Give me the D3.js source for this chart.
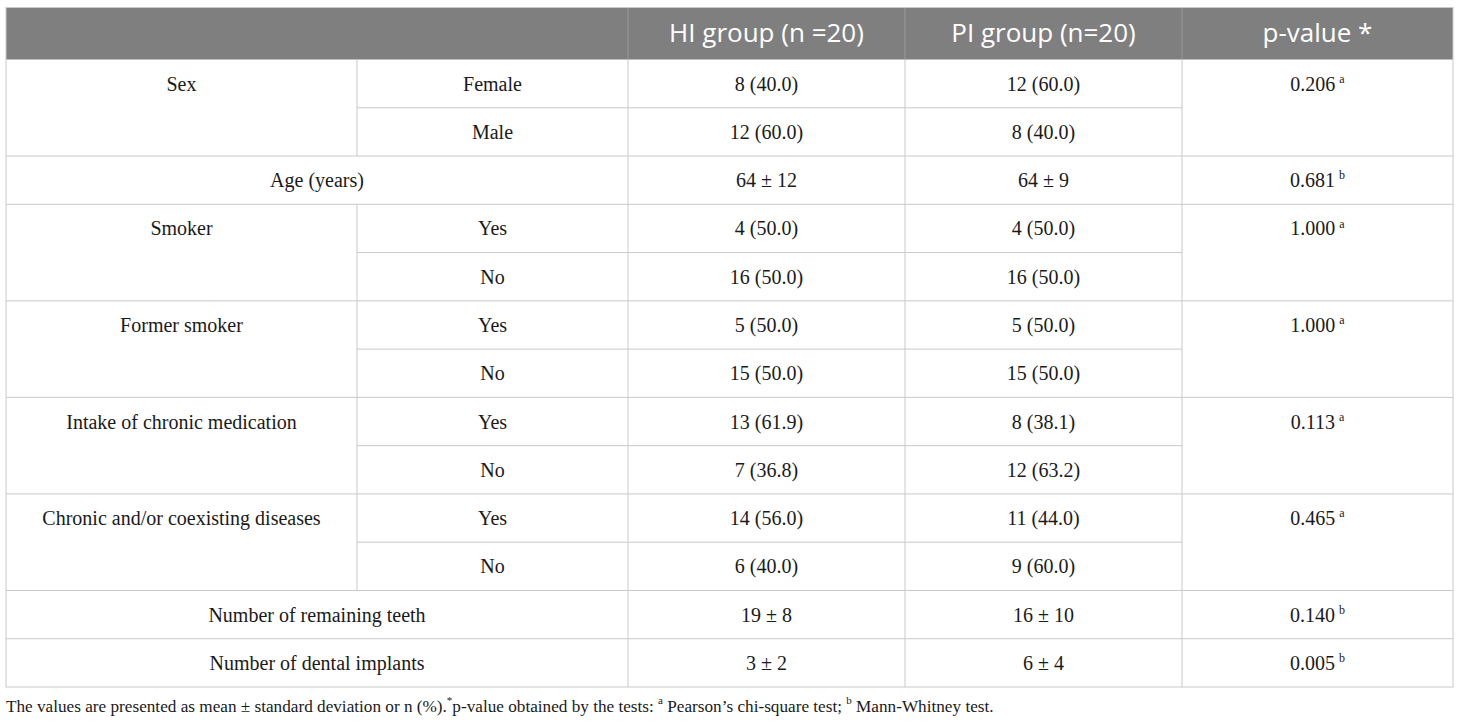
<!DOCTYPE html>
<html>
<head>
<meta charset="utf-8">
<script src="https://cdn.jsdelivr.net/npm/d3@7"></script>
<style>
  html, body { margin: 0; padding: 0; background: #fff; }
  svg { display: block; }
</style>
</head>
<body>
<svg id="chart" width="1460" height="724"></svg>
<script>
// ---- data ----
const headers = ["", "HI group (n =20)", "PI group (n=20)", "p-value *"];
const variables = [
  "Sex", "Age (years)", "Smoker", "Former smoker",
  "Intake of chronic medication", "Chronic and/or coexisting diseases",
  "Number of remaining teeth", "Number of dental implants"
];
const levels = [
  ["Female", "Male"], [], ["Yes", "No"], ["Yes", "No"],
  ["Yes", "No"], ["Yes", "No"], [], []
];
const hiValues = [
  ["8 (40.0)", "12 (60.0)"], ["64 ± 12"], ["4 (50.0)", "16 (50.0)"],
  ["5 (50.0)", "15 (50.0)"], ["13 (61.9)", "7 (36.8)"],
  ["14 (56.0)", "6 (40.0)"], ["19 ± 8"], ["3 ± 2"]
];
const piValues = [
  ["12 (60.0)", "8 (40.0)"], ["64 ± 9"], ["4 (50.0)", "16 (50.0)"],
  ["5 (50.0)", "15 (50.0)"], ["8 (38.1)", "12 (63.2)"],
  ["11 (44.0)", "9 (60.0)"], ["16 ± 10"], ["6 ± 4"]
];
const pValues = ["0.206", "0.681", "1.000", "1.000", "0.113", "0.465", "0.140", "0.005"];
const pTests = ["a", "b", "a", "a", "a", "a", "b", "b"];
const footnoteParts = [
  {t: "The values are presented as mean ± standard deviation or n (%).", sup: false},
  {t: "*", sup: true},
  {t: "p-value obtained by the tests: ", sup: false},
  {t: "a", sup: true},
  {t: " Pearson’s chi-square test; ", sup: false},
  {t: "b", sup: true},
  {t: " Mann-Whitney test.", sup: false}
];

// ---- layout ----
const svg = d3.select("#chart");
const colEdges = [6, 357, 628, 905, 1182, 1453];
const x = d3.scaleOrdinal().domain(d3.range(6)).range(colEdges);
const headTop = 7.5, headBottom = 59.5;
const nRows = d3.sum(variables, (v, i) => Math.max(1, levels[i].length));
const y = d3.scaleLinear().domain([0, nRows]).range([headBottom, 687]);
const border = "#c9c9c9";
const serif = "'Liberation Serif', 'Times New Roman', serif";
const sans = "'Open Sans', 'Noto Sans', sans-serif";
const textCol = "#1a1a1a";
const bodySize = 20;

// header
svg.append("rect").attr("x", x(0)).attr("y", headTop)
  .attr("width", x(5) - x(0)).attr("height", headBottom - headTop)
  .attr("fill", "#7f7f7f");
[2, 3, 4].forEach(c => {
  svg.append("line").attr("x1", x(c)).attr("x2", x(c))
    .attr("y1", headTop).attr("y2", headBottom)
    .attr("stroke", "#9a9a9a").attr("stroke-width", 1);
});
const headCenters = [(x(0) + x(2)) / 2, (x(2) + x(3)) / 2, (x(3) + x(4)) / 2, (x(4) + x(5)) / 2];
svg.selectAll("text.head").data(headers).join("text")
  .attr("class", "head")
  .attr("x", (d, i) => headCenters[i])
  .attr("y", (headTop + headBottom) / 2)
  .attr("dy", "0.33em")
  .attr("text-anchor", "middle")
  .attr("font-family", sans)
  .attr("font-size", 26)
  .attr("fill", "#ffffff")
  .text(d => d);

// body
function bodyText(xc, yc, txt, sup) {
  const t = svg.append("text")
    .attr("x", xc).attr("y", yc).attr("dy", "0.35em")
    .attr("text-anchor", "middle")
    .attr("font-family", serif).attr("font-size", bodySize)
    .attr("fill", textCol);
  t.append("tspan").text(txt);
  if (sup) {
    t.append("tspan").text("\u2009").attr("font-size", bodySize);
    t.append("tspan").text(sup).attr("font-size", 12).attr("dy", "-0.65em");
  }
  return t;
}

let r = 0;
const hLines = [];
variables.forEach((v, i) => {
  const n = Math.max(1, levels[i].length);
  const top = r, bottom = r + n;
  const firstCenter = (y(r) + y(r + 1)) / 2;
  if (levels[i].length) {
    bodyText((x(0) + x(1)) / 2, firstCenter, v);
    levels[i].forEach((lv, k) => {
      const cy = (y(r + k) + y(r + k + 1)) / 2;
      bodyText((x(1) + x(2)) / 2, cy, lv);
      bodyText((x(2) + x(3)) / 2, cy, hiValues[i][k]);
      bodyText((x(3) + x(4)) / 2, cy, piValues[i][k]);
      if (k > 0) hLines.push({x1: x(1), x2: x(4), y: y(r + k)});
    });
  } else {
    bodyText((x(0) + x(2)) / 2, firstCenter, v);
    bodyText((x(2) + x(3)) / 2, firstCenter, hiValues[i][0]);
    bodyText((x(3) + x(4)) / 2, firstCenter, piValues[i][0]);
  }
  bodyText((x(4) + x(5)) / 2, firstCenter, pValues[i], pTests[i]);
  // vertical lines
  const vcols = levels[i].length ? [1, 2, 3, 4] : [2, 3, 4];
  vcols.forEach(c => svg.append("line")
    .attr("x1", x(c)).attr("x2", x(c)).attr("y1", y(top)).attr("y2", y(bottom))
    .attr("stroke", border).attr("stroke-width", 1));
  if (i < variables.length - 1) hLines.push({x1: x(0), x2: x(5), y: y(bottom)});
  r = bottom;
});
svg.selectAll("line.h").data(hLines).join("line")
  .attr("class", "h")
  .attr("x1", d => d.x1).attr("x2", d => d.x2)
  .attr("y1", d => d.y).attr("y2", d => d.y)
  .attr("stroke", border).attr("stroke-width", 1);

// outer border
svg.append("rect").attr("x", x(0)).attr("y", headTop)
  .attr("width", x(5) - x(0)).attr("height", y(nRows) - headTop)
  .attr("fill", "none").attr("stroke", border).attr("stroke-width", 1);

// footnote
const fn = svg.append("text").attr("x", 6).attr("y", 706).attr("dy", "0.33em")
  .attr("font-family", serif).attr("font-size", 17.2).attr("fill", textCol);
footnoteParts.forEach((p, i) => {
  const ts = fn.append("tspan").text(p.t);
  if (p.sup) {
    ts.attr("font-size", 11).attr("dy", "-7.7px");
  } else if (i > 0 && footnoteParts[i - 1].sup) {
    ts.attr("dy", "7.7px");
  }
});
</script>
</body>
</html>
